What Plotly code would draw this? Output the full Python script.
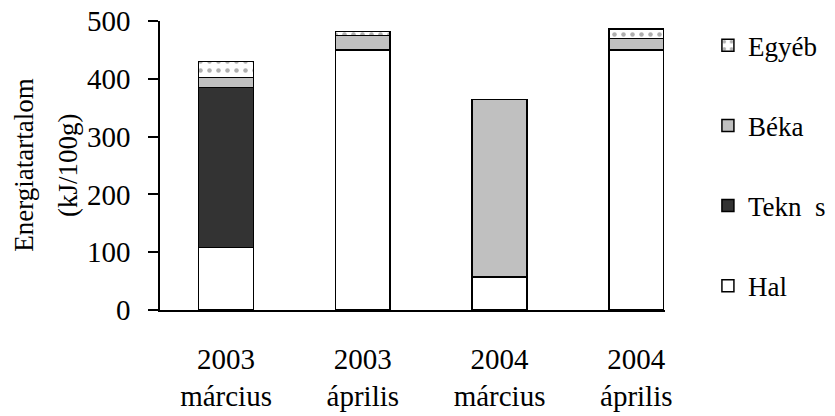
import plotly.graph_objects as go

categories = ["2003<br>március", "2003<br>április", "2004<br>március", "2004<br>április"]
hal = [108, 450, 57, 450]
teknos = [277, 0, 0, 0]
beka = [17, 25, 307, 20]
egyeb = [28, 7, 0, 16]

x_pos = [0, 1, 2, 3]
FONT = "Liberation Serif"

# name, values, fill, pattern, legend rank (top of legend first)
series = [
    ("Hal", hal, "white", None, 4),
    ("Tekn\u00a0\u00a0s", teknos, "#333333", None, 3),
    ("Béka", beka, "#c0c0c0", None, 2),
    ("Egyéb", egyeb, "white", ".", 1),
]

fig = go.Figure()
for i, (name, vals, color, pat, rank) in enumerate(series):
    marker = dict(color=color, line=dict(color="black", width=1.5))
    if pat:
        marker["pattern"] = dict(shape=pat, fgcolor="#606060", bgcolor="white",
                                 size=9, solidity=0.2, fillmode="overlay")
    fig.add_trace(go.Bar(
        x=x_pos, y=vals, name=name, marker=marker, width=0.4,
        legendgroup=f"g{i}", legendrank=rank,
    ))

# y-axis title, two rotated lines
for text, xp in [("Energiatartalom", -0.271), ("(kJ/100g)", -0.183)]:
    fig.add_annotation(
        text=text, xref="paper", yref="paper", x=xp, y=0.5,
        xanchor="center", yanchor="middle", textangle=-90, showarrow=False,
        font=dict(family=FONT, size=27, color="black"),
    )

fig.update_layout(
    barmode="stack",
    width=835, height=416,
    margin=dict(l=160, r=170, t=21, b=106, autoexpand=False),
    plot_bgcolor="white", paper_bgcolor="white",
    font=dict(family=FONT, size=29, color="black"),
    legend=dict(
        traceorder="grouped", tracegroupgap=42, maxheight=400,
        x=1.085, y=0.999, xanchor="left", yanchor="top",
        font=dict(family=FONT, size=27), itemwidth=30,
        bgcolor="rgba(0,0,0,0)",
    ),
    xaxis=dict(
        range=[-0.483, 3.21], tickmode="array", tickvals=x_pos, ticktext=categories,
        showline=True, linecolor="black", linewidth=1.5, ticks="",
        showgrid=False, zeroline=False, tickfont=dict(family=FONT, size=29),
        ticklabelstandoff=22, automargin=False,
    ),
    yaxis=dict(
        range=[0, 500], tickvals=[0, 100, 200, 300, 400, 500],
        showline=True, linecolor="black", linewidth=1.5,
        ticks="outside", ticklen=10, tickcolor="black", tickwidth=1.5,
        showgrid=False, zeroline=False, tickfont=dict(family=FONT, size=29),
        ticklabelstandoff=12, automargin=False,
    ),
)

fig.write_html("out.html")
